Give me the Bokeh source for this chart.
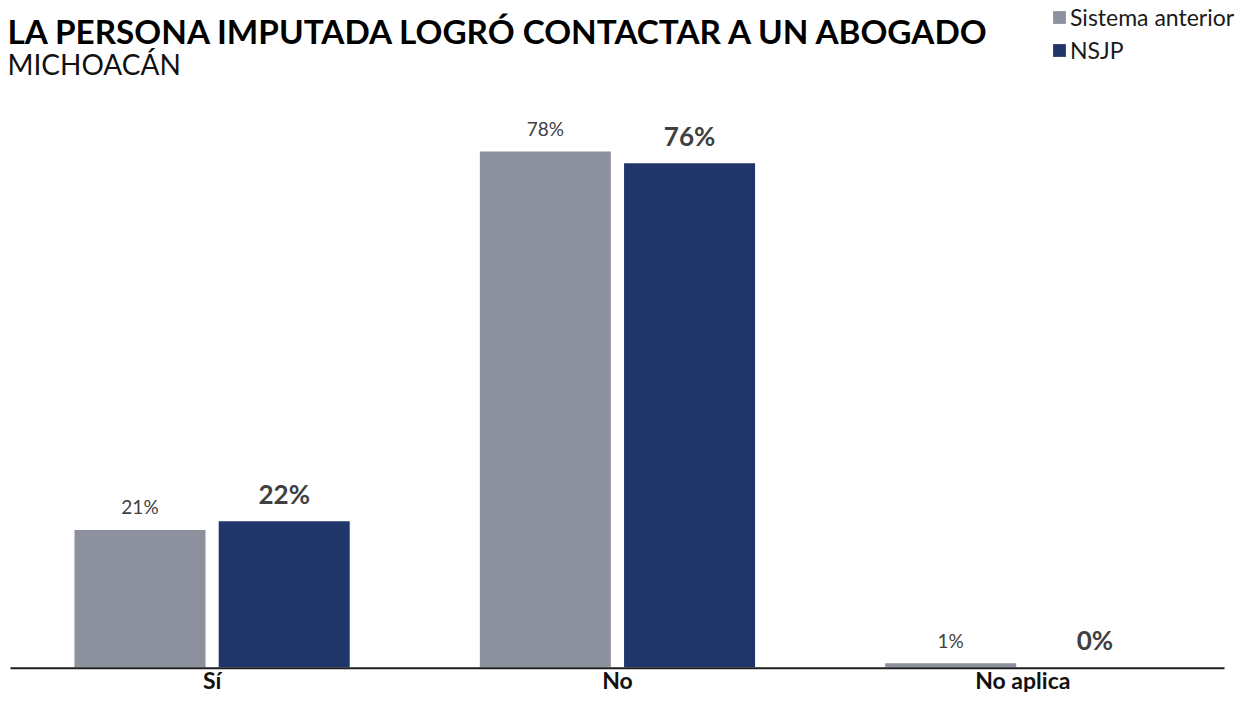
from bokeh.plotting import figure
from bokeh.models import Range1d, ColumnDataSource, LabelSet, Legend, LegendItem
from bokeh.transform import dodge
from bokeh.core.properties import value
from bokeh.embed import file_html
from bokeh.resources import INLINE

# ---- data ----
categories = ["Sí", "No", "No aplica"]
series_names = ["Sistema anterior", "NSJP"]
sistema_anterior = [20.7, 77.8, 0.6]
nsjp = [22.0, 76.0, 0.0]
title_text = "LA PERSONA IMPUTADA LOGRÓ CONTACTAR A UN ABOGADO"
subtitle_text = "MICHOACÁN"

# ---- style / layout ----
GRAY = "#8d919d"
NAVY = "#20366b"
LABEL_COLOR = "#404040"
W, H = 1240, 692
PX_UNIT = 405.35      # pixels per category step
PX_PCT = 6.63         # pixels per percentage point
BASE = 666.7          # canvas y (from top) of value 0
CENTER0 = 211.6       # canvas x of first category centre
OFF = 0.1779          # dodge offset
BW = 0.3232           # bar width

x_start = -CENTER0 / PX_UNIT
x_end = x_start + W / PX_UNIT
y_start = -(H - BASE) / PX_PCT
y_end = y_start + H / PX_PCT

def fig_x(px_from_left):
    return x_start + px_from_left / PX_UNIT

def fig_y(px_from_top):
    return (BASE - px_from_top) / PX_PCT

src = ColumnDataSource(dict(
    x=list(range(len(categories))),
    cat=categories,
    sa=sistema_anterior,
    nsjp=nsjp,
    sa_lbl=[f"{round(v)}%" for v in sistema_anterior],
    nsjp_lbl=[f"{round(v)}%" for v in nsjp],
))

p = figure(width=W, height=H, title=None,
           x_range=Range1d(x_start, x_end), y_range=Range1d(y_start, y_end),
           x_axis_location=None, y_axis_location=None,
           min_border=0, toolbar_location=None, output_backend="svg",
           outline_line_color=None)
p.grid.visible = False

r1 = p.vbar(x=dodge("x", -OFF), top="sa", bottom=0, width=BW, source=src,
            fill_color=GRAY, line_color=None)
r2 = p.vbar(x=dodge("x", OFF), top="nsjp", bottom=0, width=BW, source=src,
            fill_color=NAVY, line_color=None)

# baseline
p.segment(x0=[fig_x(10)], x1=[fig_x(1224)], y0=[fig_y(667.7)], y1=[fig_y(667.7)],
          line_color="#1e1e1e", line_width=2)

# value labels
p.add_layout(LabelSet(x=dodge("x", -OFF), y="sa", text="sa_lbl", source=src,
                      text_align="center", text_baseline="alphabetic", y_offset=15.5,
                      text_font=value("Lato"), text_font_size=value("19px"),
                      text_color=LABEL_COLOR))
p.add_layout(LabelSet(x=dodge("x", OFF), y="nsjp", text="nsjp_lbl", source=src,
                      text_align="center", text_baseline="alphabetic", y_offset=17,
                      text_font=value("Lato"), text_font_size=value("26px"),
                      text_font_style=value("bold"), text_color=LABEL_COLOR))

# category labels
p.add_layout(LabelSet(x="x", y=fig_y(688), text="cat", source=src,
                      text_align="center", text_baseline="alphabetic",
                      text_font=value("Lato"), text_font_size=value("23px"),
                      text_font_style=value("bold"), text_color="#111111"))

# title & subtitle
p.text(x=[fig_x(7)], y=[fig_y(30)], text=[title_text],
       text_align="left", text_baseline="alphabetic",
       text_font=value("Lato"), text_font_size="33.3px", text_font_style="bold",
       text_color="#000000")
p.text(x=[fig_x(7)], y=[fig_y(63)], text=[subtitle_text],
       text_align="left", text_baseline="alphabetic",
       text_font=value("Lato"), text_font_size="28px",
       text_color="#111111")

# legend
legend = Legend(items=[LegendItem(label=series_names[0], renderers=[r1]),
                       LegendItem(label=series_names[1], renderers=[r2])],
                location=(1051, 628), glyph_width=16, glyph_height=16,
                label_standoff=3, padding=0, spacing=5, margin=0,
                border_line_color=None, background_fill_alpha=0,
                label_text_font="Lato", label_text_font_size="23px",
                label_text_color="#1a1a1a", label_height=20)
p.add_layout(legend)

open("out.html", "w").write(file_html(p, INLINE))
